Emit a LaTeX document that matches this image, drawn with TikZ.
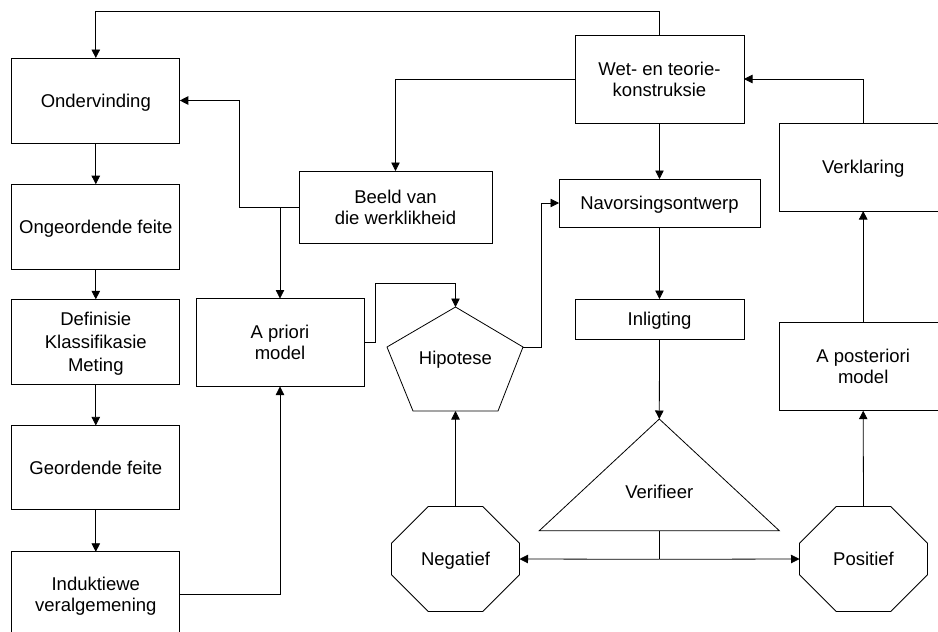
\documentclass[tikz,border=0pt]{standalone}
\usepackage{fontspec}
\setmainfont{Liberation Sans}
\usetikzlibrary{arrows.meta,shapes.misc}
\newcommand\diagfont{\fontsize{18.5}{21}\selectfont}
\tikzset{
  box/.style={draw, rectangle, inner sep=0pt, outer sep=0pt, align=center,
    font=\diagfont, text depth=-3.5pt},
  octa/.style={draw, chamfered rectangle, chamfered rectangle xsep=31pt,
    chamfered rectangle ysep=30pt, minimum width=128pt, minimum height=105pt,
    inner sep=0pt, outer sep=0pt, font=\diagfont, text depth=-3pt},
  lbl/.style={align=center, inner sep=0pt, font=\diagfont, text depth=-3pt},
  flow/.style={-{Triangle[length=8.5pt,width=8.5pt]}},
}
\begin{document}
\begin{tikzpicture}[x=1pt,y=-1pt,line width=0.8pt,line join=miter]
\useasboundingbox (0,0) rectangle (938,632);
\clip (0,0) rectangle (938,632);

% left column
\node[box, minimum width=168pt, minimum height=85pt] (ond) at (95.8,100.5) {Ondervinding};
\node[box, minimum width=168pt, minimum height=85pt] (ong) at (95.8,226.7) {Ongeordende feite};
\node[box, minimum width=168pt, minimum height=85pt,
      font=\fontsize{18.5}{23}\selectfont] (def) at (95.8,341.8) {Definisie\\Klassifikasie\\Meting};
\node[box, minimum width=168pt, minimum height=84pt] (geo) at (95.8,467.4) {Geordende feite};
\node[box, minimum width=168pt, minimum height=85pt] (ind) at (95.8,594.3) {Induktiewe\\veralgemening};

% middle boxes
\node[box, minimum width=169pt, minimum height=88pt] (wet) at (659.5,79) {Wet- en teorie-\\konstruksie};
\node[box, minimum width=193pt, minimum height=72pt] (beeld) at (395.5,207) {Beeld van\\die werklikheid};
\node[box, minimum width=168pt, minimum height=88pt] (apr) at (280,342.5) {A priori\\model};
\node[box, minimum width=201pt, minimum height=48pt] (nav) at (659.5,203) {Navorsingsontwerp};
\node[box, minimum width=169pt, minimum height=40pt] (inl) at (659.5,319) {Inligting};

% right column
\node[box, minimum width=168pt, minimum height=88pt] (verk) at (863.2,167) {Verklaring};
\node[box, minimum width=168pt, minimum height=88pt] (apost) at (863.2,366.7) {A posteriori\\model};

% hypothesis pentagon
\coordinate (hA) at (455.5,307);
\coordinate (hL) at (387,347);
\coordinate (hR) at (523,347);
\coordinate (hBL) at (413,411);
\coordinate (hBR) at (498,411);
\coordinate (hB) at (455.5,411);
\draw (hA) -- (hR) -- (hBR) -- (hBL) -- (hL) -- cycle;
\node[lbl] (hip) at (455.5,358) {Hipotese};

% verification triangle
\coordinate (tA) at (659.3,419);
\coordinate (tL) at (539.3,530.7);
\coordinate (tR) at (779.3,530.7);
\coordinate (tB) at (659.3,530.7);
\draw (tA) -- (tR) -- (tL) -- cycle;
\node[lbl] (ver) at (659.3,491.5) {Verifieer};

% outcomes
\node[octa] (neg) at (455.5,559) {Negatief};
\node[octa] (pos) at (863.5,559) {Positief};

% vertical chain on the left
\draw[flow] (ond) -- (ong);
\draw[flow] (ong) -- (def);
\draw[flow] (def) -- (geo);
\draw[flow] (geo) -- (ind);

% routing helpers
\coordinate (topline) at (0,11);
\coordinate (backx) at (239,0);
\coordinate (aprbend) at (375,283);
\coordinate (hipx) at (541.7,0);
\coordinate (split) at (659.3,559.3);

% feedback loops
\draw[flow] (wet.north) -- (wet.north |- topline) -| (ond.north);
\draw[flow] (wet.west) -| (beeld.north);
\draw[flow] (wet) -- (nav);
\draw[flow] (verk.north) |- (wet.east);
\draw[flow] (beeld.west) -- (beeld.west -| backx) |- (ond.east);
\draw[flow] (beeld.west -| apr.north) -- (apr.north);
\draw[flow] (ind.east) -| (apr.south);
\draw[flow] (apr.east) -| (aprbend) -| (hA);
\draw[flow] (hR) -- (hR -| hipx) |- (nav.west);
\draw[flow] (nav) -- (inl);
\draw[flow] (inl.south) -- (tA);
\draw (tB) -- (split);
\draw[flow] (split) -- (neg.east);
\draw[flow] (split) -- (pos.west);
\draw[flow] (neg.north) -- (hB);
\draw[flow] (pos.north) -- (apost.south);
\draw[flow] (apost) -- (verk);
\end{tikzpicture}
\end{document}
